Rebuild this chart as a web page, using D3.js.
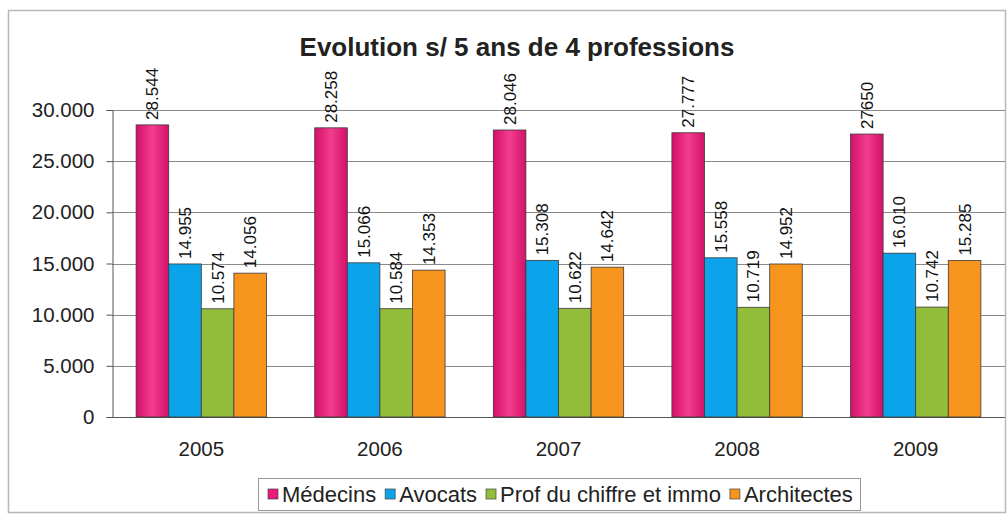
<!DOCTYPE html>
<html>
<head>
<meta charset="utf-8">
<script src="https://cdn.jsdelivr.net/npm/d3@7"></script>
<style>
  body { margin: 0; background: #fff; }
  svg { font-family: Arial, "Liberation Sans", sans-serif; }
</style>
</head>
<body>
<svg id="chart" width="1007" height="516"></svg>
<script>
// data
const years = ["2005", "2006", "2007", "2008", "2009"];
const series = ["Médecins", "Avocats", "Prof du chiffre et immo", "Architectes"];
const medecins = [28544, 28258, 28046, 27777, 27650];
const avocats = [14955, 15066, 15308, 15558, 16010];
const profChiffre = [10574, 10584, 10622, 10719, 10742];
const architectes = [14056, 14353, 14642, 14952, 15285];
const yTicks = [0, 5000, 10000, 15000, 20000, 25000, 30000];
// one label in the source was typed without a separator
const rawLabels = { "2009|Médecins": "27650" };

const colors = ["#ea1a7b", "#0ba4ea", "#92bd3b", "#f7941d"];
const values = [medecins, avocats, profChiffre, architectes];

const svg = d3.select("#chart");
const fr = d3.formatLocale({ decimal: ",", thousands: ".", grouping: [3], currency: ["", "€"] });
const fmt = fr.format(",d");

// outer frame
svg.append("rect")
  .attr("x", 8.5).attr("y", 10.5)
  .attr("width", 997).attr("height", 502)
  .attr("fill", "none").attr("stroke", "#b8b8b8").attr("stroke-width", 1.5);

const margin = { left: 112, right: 1005, top: 110, bottom: 417 };

const x = d3.scaleBand().domain(years).range([margin.left, margin.right]).paddingInner(0.27).paddingOuter(0.135);
const xs = d3.scaleBand().domain(series).range([0, x.bandwidth()]);
const y = d3.scaleLinear().domain([0, 30000]).range([margin.bottom, margin.top]);

// gradient for the pink bars
const defs = svg.append("defs");
const grad = defs.append("linearGradient").attr("id", "pinkGrad").attr("x1", "0").attr("x2", "1");
grad.append("stop").attr("offset", "0").attr("stop-color", "#d4106a");
grad.append("stop").attr("offset", "0.5").attr("stop-color", "#f23d8e");
grad.append("stop").attr("offset", "1").attr("stop-color", "#d4106a");

// grid lines
svg.append("g").selectAll("line")
  .data(yTicks)
  .join("line")
  .attr("x1", margin.left).attr("x2", margin.right)
  .attr("y1", d => Math.round(y(d)) + 0.5).attr("y2", d => Math.round(y(d)) + 0.5)
  .attr("stroke", d => d === 0 ? "#555" : "#8a8a8a")
  .attr("stroke-width", 1);

// y axis
const yAxis = svg.append("g")
  .attr("transform", `translate(${margin.left + 0.5},0)`)
  .call(d3.axisLeft(y).tickValues(yTicks).tickFormat(fmt).tickSize(6).tickPadding(12));
yAxis.select(".domain").attr("stroke", "#555");
yAxis.selectAll(".tick line").attr("stroke", "#555");
yAxis.selectAll("text").attr("font-size", 20.5).attr("fill", "#222");

// x labels
svg.append("g").selectAll("text")
  .data(years)
  .join("text")
  .attr("x", d => x(d) + x.bandwidth() / 2)
  .attr("y", 456)
  .attr("text-anchor", "middle")
  .attr("font-size", 20.5)
  .attr("fill", "#222")
  .text(d => d);

// bars
const rows = [];
years.forEach((yr, i) => series.forEach((s, j) => rows.push({ yr, s, j, v: values[j][i] })));

svg.append("g").selectAll("rect")
  .data(rows)
  .join("rect")
  .attr("x", d => x(d.yr) + xs(d.s))
  .attr("y", d => y(d.v))
  .attr("width", xs.bandwidth())
  .attr("height", d => y(0) - y(d.v))
  .attr("fill", d => d.j === 0 ? "url(#pinkGrad)" : colors[d.j])
  .attr("stroke", "#3a3a3a")
  .attr("stroke-width", 0.8);

// value labels, rotated
svg.append("g").selectAll("text")
  .data(rows)
  .join("text")
  .attr("transform", d => `translate(${x(d.yr) + xs(d.s) + xs.bandwidth() / 2 + 6},${y(d.v) - 5}) rotate(-90)`)
  .attr("font-size", 17)
  .attr("fill", "#111")
  .text(d => rawLabels[d.yr + "|" + d.s] || fmt(d.v));

// title
svg.append("text")
  .attr("x", 517).attr("y", 56)
  .attr("text-anchor", "middle")
  .attr("font-size", 26).attr("font-weight", "bold")
  .attr("fill", "#222")
  .text("Evolution s/ 5 ans de 4 professions");

// legend
const lg = svg.append("g");
lg.append("rect")
  .attr("x", 258.5).attr("y", 478.5)
  .attr("width", 602).attr("height", 32)
  .attr("fill", "#fff").attr("stroke", "#999");
let lx = 268;
series.forEach((s, j) => {
  lg.append("rect")
    .attr("x", lx).attr("y", 489).attr("width", 10).attr("height", 10)
    .attr("fill", colors[j]).attr("stroke", "#444").attr("stroke-width", 0.7);
  const t = lg.append("text")
    .attr("x", lx + 14).attr("y", 502)
    .attr("font-size", 22).attr("fill", "#222")
    .text(s);
  lx += 14 + t.node().getComputedTextLength() + 9;
});
</script>
</body>
</html>
